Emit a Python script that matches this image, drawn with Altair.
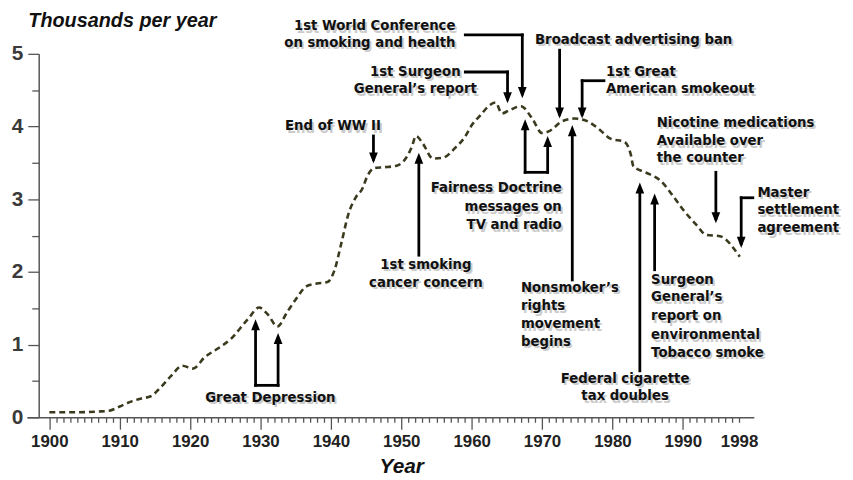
import altair as alt
import pandas as pd

# ---- data -------------------------------------------------------------
years = [1900, 1904, 1907, 1908.5, 1910, 1911.7, 1913.1, 1914.4, 1915.9, 1917.3,
         1918.9, 1920.4, 1922.1, 1924, 1925.8, 1928.2, 1929.8, 1931.0, 1932.4,
         1933.8, 1935, 1936.5, 1938, 1939.5, 1940.5, 1941.5, 1942.5, 1943.5,
         1944.5, 1945.1, 1946.2, 1947.5, 1949.3, 1950.7, 1951.5, 1952.1, 1953.1,
         1954.5, 1955.9, 1957.7, 1959, 1960.1, 1961.3, 1962.4, 1963.4, 1964.3,
         1965.3, 1967.0, 1968.6, 1970.0, 1971.1, 1972.8, 1974.6, 1976.5, 1977.9,
         1979.8, 1981.7, 1982.6, 1983.0, 1984.7, 1986.9, 1988.5, 1990.1, 1992.0,
         1993.3, 1995.3, 1996.2, 1997.1, 1998.1]
values = [0.07, 0.07, 0.08, 0.09, 0.15, 0.22, 0.26, 0.29, 0.42, 0.57,
          0.71, 0.67, 0.83, 0.95, 1.08, 1.35, 1.51, 1.42, 1.25,
          1.45, 1.62, 1.80, 1.84, 1.86, 2.02, 2.40, 2.80, 3.02,
          3.15, 3.30, 3.43, 3.44, 3.46, 3.57, 3.72, 3.87, 3.76,
          3.56, 3.57, 3.71, 3.85, 4.03, 4.16, 4.28, 4.33, 4.18,
          4.22, 4.28, 4.11, 3.91, 3.94, 4.07, 4.11, 4.07, 3.98,
          3.83, 3.79, 3.62, 3.45, 3.37, 3.25, 3.06, 2.85, 2.64,
          2.51, 2.49, 2.44, 2.34, 2.21]

ann_text = ["1st World Conference", "on smoking and health",
            "1st Surgeon", "General\u2019s report",
            "End of WW II",
            "Fairness Doctrine", "messages on", "TV and radio",
            "Broadcast advertising ban",
            "1st Great", "American smokeout",
            "Nicotine medications", "Available over", "the counter",
            "Master", "settlement", "agreement",
            "Great Depression",
            "1st smoking", "cancer concern",
            "Nonsmoker\u2019s", "rights", "movement", "begins",
            "Federal cigarette", "tax doubles",
            "Surgeon", "General\u2019s", "report on", "environmental", "Tobacco smoke"]
ann_year = [1957.7, 1957.7,
            1952.0, 1952.0,
            1940.3,
            1972.8, 1972.8, 1972.8,
            1969.0,
            1979.1, 1979.1,
            1986.3, 1986.3, 1986.3,
            2000.6, 2000.6, 2000.6,
            1931.4,
            1953.5, 1953.5,
            1967.0, 1967.0, 1967.0, 1967.0,
            1981.8, 1981.8,
            1985.5, 1985.5, 1985.5, 1985.5, 1985.5]
ann_value = [5.38, 5.15,
             4.75, 4.51,
             4.00,
             3.16, 2.89, 2.64,
             5.19,
             4.75, 4.51,
             4.05, 3.80, 3.56,
             3.09, 2.85, 2.60,
             0.27,
             2.10, 1.85,
             1.78, 1.53, 1.28, 1.04,
             0.53, 0.29,
             1.89, 1.65, 1.39, 1.13, 0.89]
ann_align = ["right", "right",
             "center", "center",
             "center",
             "right", "right", "right",
             "left",
             "left", "left",
             "left", "left", "left",
             "left", "left", "left",
             "center",
             "center", "center",
             "left", "left", "left", "left",
             "center", "center",
             "left", "left", "left", "left", "left"]

# arrow shafts (start year, start value, end year, end value)
seg_x1 = [1959.1, 1967.2, 1959.1, 1965.1, 1946.05, 1967.6, 1967.6, 1970.8, 1972.5,
          1978.8, 1975.7, 1994.7, 1999.95, 1998.3, 1929.3, 1929.3, 1932.5, 1952.5,
          1974.3, 1983.9, 1986.0]
seg_y1 = [5.26, 5.26, 4.75, 4.75, 3.87, 3.37, 3.37, 3.37, 5.05,
          4.63, 4.63, 3.37, 3.02, 3.02, 0.44, 0.44, 0.44, 2.23,
          1.89, 0.64, 2.03]
seg_x2 = [1967.2, 1967.2, 1965.1, 1965.1, 1946.05, 1967.6, 1970.8, 1970.8, 1972.5,
          1975.7, 1975.7, 1994.7, 1998.3, 1998.3, 1929.3, 1932.5, 1932.5, 1952.5,
          1974.3, 1983.9, 1986.0]
seg_y2 = [5.26, 4.45, 4.75, 4.38, 3.55, 4.00, 3.37, 3.78, 4.17,
          4.63, 4.17, 2.73, 3.02, 2.39, 1.26, 0.44, 1.07, 3.55,
          3.93, 3.14, 2.99]

head_down_x = [1967.2, 1965.1, 1946.05, 1972.5, 1975.7, 1994.7, 1998.3]
head_down_y = [4.39, 4.32, 3.49, 4.11, 4.11, 2.67, 2.33]
head_up_x = [1967.6, 1970.8, 1929.3, 1932.5, 1952.5, 1974.3, 1983.9, 1986.0]
head_up_y = [4.10, 3.87, 1.35, 1.16, 3.64, 4.02, 3.23, 3.08]

x_ticks = list(range(1900, 1999))
y_ticks = [0, 0.5, 1, 1.5, 2, 2.5, 3, 3.5, 4, 4.5, 5]

# ---- tables (same field names everywhere so axes merge cleanly) --------
line_df = pd.DataFrame({"year": years, "value": values})
ann_df = pd.DataFrame({"text": ann_text, "year": ann_year, "value": ann_value, "align": ann_align})
seg_df = pd.DataFrame({"year": seg_x1, "value": seg_y1, "year2": seg_x2, "value2": seg_y2})
up_df = pd.DataFrame({"year": head_up_x, "value": head_up_y})
down_df = pd.DataFrame({"year": head_down_x, "value": head_down_y})

xscale = alt.Scale(domain=[1896.8, 2000.1], nice=False, zero=False)
yscale = alt.Scale(domain=[0, 5], nice=False)

AXIS_COLOR = "#555555"
NARROW = "Liberation Sans Narrow, Arial Narrow, Liberation Sans"
ANN_FONT = "DejaVu Sans"

x_axis = alt.Axis(
    values=x_ticks,
    labelExpr="(datum.value % 10 === 0 || datum.value === 1998) ? datum.value : ''",
    tickSize={"condition": {"test": "datum.value % 10 === 0", "value": 12}, "value": 5},
    tickColor=AXIS_COLOR, tickWidth=1.3,
    domainColor=AXIS_COLOR, domainWidth=1.5,
    labelFont=NARROW, labelFontSize=17, labelFontWeight="bold", labelColor="#222222",
    labelPadding={"condition": {"test": "datum.value === 1998", "value": 11}, "value": 4},
    labelOverlap=False, labelFlush=False,
    grid=False,
    title="Year", titleFont=NARROW, titleFontSize=21, titleFontStyle="italic",
    titleFontWeight="bold", titleColor="#111111", titleX=378, titleY=50,
    titleAlign="center", titleBaseline="middle",
)
y_axis = alt.Axis(
    values=y_ticks,
    labelExpr="datum.value % 1 === 0 ? datum.value : ''",
    tickSize={"condition": {"test": "datum.value % 1 === 0", "value": 11}, "value": 7},
    tickColor=AXIS_COLOR, tickWidth=1.3,
    domainColor=AXIS_COLOR, domainWidth=1.5,
    labelFont="Liberation Sans", labelFontSize=21, labelFontWeight="bold", labelColor="#3a3a3a",
    labelPadding=5, labelOverlap=False, labelFlush=False,
    offset=-12, grid=False,
    title="Thousands per year", titleAngle=0, titleFont=NARROW, titleFontSize=20,
    titleFontStyle="italic", titleFontWeight="bold", titleColor="#111111",
    titleAlign="left", titleBaseline="middle", titleX=-11, titleY=-34,
)

X = alt.X("year:Q", scale=xscale, axis=x_axis)
Y = alt.Y("value:Q", scale=yscale, axis=y_axis)

line = alt.Chart(line_df).mark_line(
    strokeDash=[6, 4], strokeWidth=2.6, color="#3b3a1e", interpolate="monotone"
).encode(x=X, y=Y)

shafts = alt.Chart(seg_df).mark_rule(color="black", strokeWidth=2.8, strokeCap="square").encode(
    x=X, y=Y, x2="year2:Q", y2="value2:Q",
)

up_path = "M0,0L-1.1,2.8L1.1,2.8Z"
down_path = "M0,0L-1.1,-2.8L1.1,-2.8Z"
heads_up = alt.Chart(up_df).mark_point(
    shape=up_path, size=64, filled=True, color="black", opacity=1).encode(x=X, y=Y)
heads_down = alt.Chart(down_df).mark_point(
    shape=down_path, size=64, filled=True, color="black", opacity=1).encode(x=X, y=Y)


def text_layer(align, shadow):
    kw = dict(align=align, baseline="middle", font=ANN_FONT, fontSize=13.4, fontWeight="bold")
    if shadow:
        kw.update(color="#808080", opacity=0.4, dx=2, dy=2.5)
    else:
        kw.update(color="#111111")
    return alt.Chart(ann_df).transform_filter(
        alt.datum.align == align
    ).mark_text(**kw).encode(x=X, y=Y, text="text:N")


layers = [line, shafts, heads_up, heads_down]
for sh in (True, False):
    for al in ("left", "center", "right"):
        layers.append(text_layer(al, sh))

chart = alt.layer(*layers).properties(
    width=734, height=367,
    autosize=alt.AutoSizeParams(type="none"),
    padding={"left": 19, "top": 44, "right": 92, "bottom": 61},
    background="white",
).configure_view(stroke=None)

chart.save("out.html", embed_options={"renderer": "svg", "actions": False})
